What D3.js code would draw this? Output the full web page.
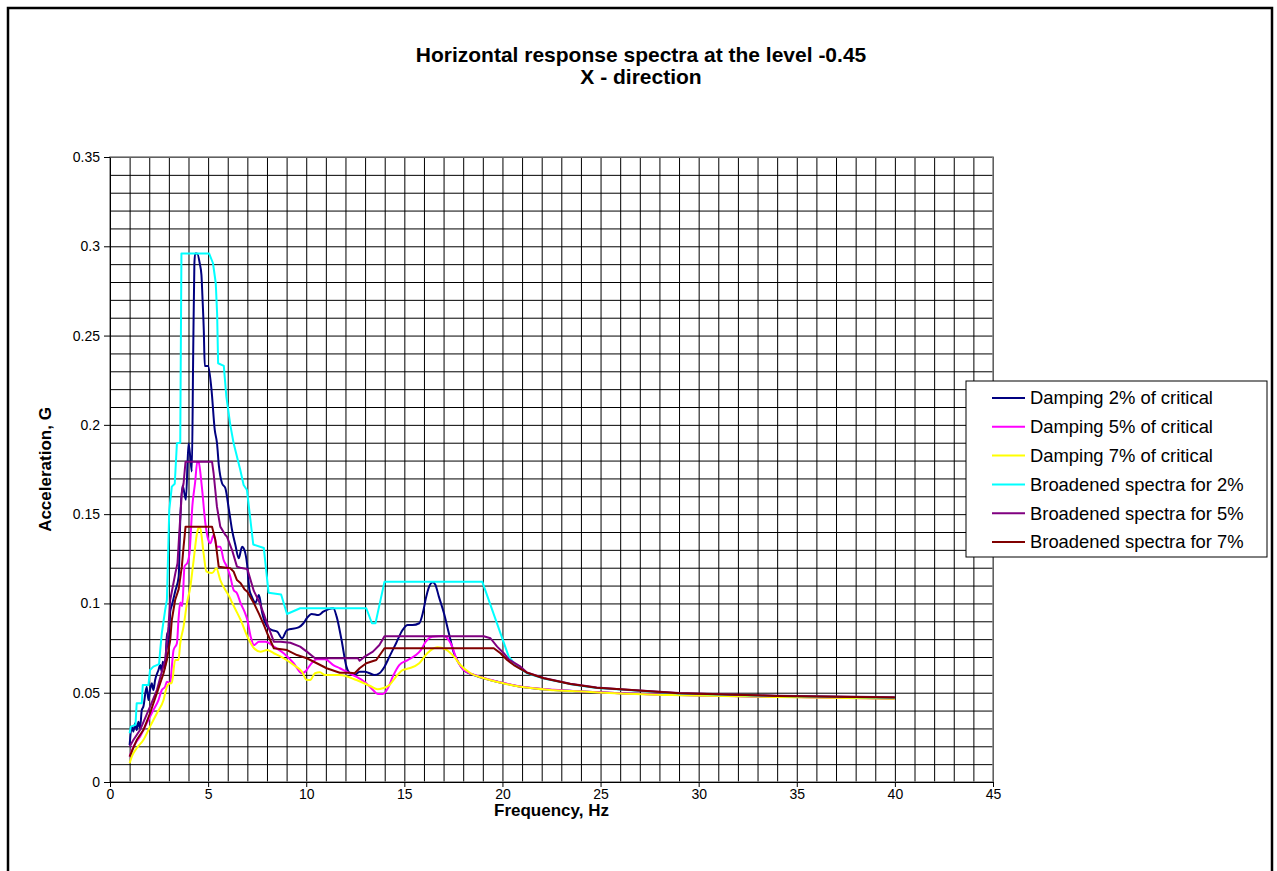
<!DOCTYPE html>
<html>
<head>
<meta charset="utf-8">
<script src="https://cdn.jsdelivr.net/npm/d3@7"></script>
<style>
	html, body { margin: 0; padding: 0; background: #fff; }
	svg { display: block; font-family: Arial, "Liberation Sans", sans-serif; }
</style>
</head>
<body>
<svg id="chart" width="1277" height="871"></svg>
<script>
'use strict';

var titleLines = ["Horizontal response spectra at the level -0.45", "X - direction"];
var xTitle = "Frequency, Hz";
var yTitle = "Acceleration, G";

var seriesNames = [
	"Damping 2% of critical",
	"Damping 5% of critical",
	"Damping 7% of critical",
	"Broadened spectra for 2%",
	"Broadened spectra for 5%",
	"Broadened spectra for 7%"
];
var seriesColors = ["#000080", "#ff00ff", "#ffff00", "#00ffff", "#800080", "#800000"];

var freqTicks = [0, 5, 10, 15, 20, 25, 30, 35, 40, 45];
var accelTicks = [0, 0.05, 0.1, 0.15, 0.2, 0.25, 0.3, 0.35];
var accelLabels = ["0", "0.05", "0.1", "0.15", "0.2", "0.25", "0.3", "0.35"];

// [frequency Hz, acceleration G]
var damping2 = [[1.0,0.0207],[1.11,0.031],[1.19,0.0282],[1.28,0.0329],[1.36,0.0291],[1.45,0.0338],[1.53,0.0301],[1.62,0.0403],[1.70,0.0422],[1.87,0.0534],[1.96,0.0459],[2.04,0.0515],[2.13,0.0553],[2.21,0.0515],[2.30,0.0571],[2.47,0.0627],[2.56,0.0655],[2.64,0.0618],[2.69,0.0674],[2.81,0.0637],[2.90,0.0833],[2.98,0.0739],[3.07,0.0954],[3.16,0.0992],[3.33,0.1071],[3.5,0.115],[3.58,0.1464],[3.70,0.166],[3.87,0.1581],[4.0,0.1896],[4.09,0.1822],[4.17,0.1739],[4.24,0.24],[4.3,0.29],[4.34,0.296],[4.44,0.296],[4.58,0.29],[4.66,0.284],[4.71,0.272],[4.78,0.253],[4.83,0.233],[5.0,0.233],[5.17,0.22],[5.34,0.197],[5.45,0.19],[5.55,0.177],[5.71,0.1673],[5.88,0.1645],[6.05,0.1533],[6.22,0.1411],[6.39,0.1327],[6.56,0.1253],[6.73,0.1318],[6.85,0.1299],[6.98,0.1225],[7.1,0.108],[7.22,0.104],[7.42,0.1005],[7.59,0.1047],[7.76,0.0945],[8.01,0.087],[8.26,0.0851],[8.52,0.0842],[8.77,0.0805],[9.02,0.0851],[9.61,0.0866],[9.86,0.0889],[10.03,0.0917],[10.28,0.0941],[10.62,0.0935],[10.87,0.0954],[11.12,0.0967],[11.38,0.0973],[11.55,0.0926],[11.8,0.0795],[12.05,0.0646],[12.22,0.0609],[12.47,0.0599],[12.72,0.0618],[12.98,0.0618],[13.23,0.0609],[13.48,0.0599],[13.73,0.0609],[13.99,0.0646],[14.24,0.0702],[14.58,0.0777],[14.91,0.0851],[15.17,0.0879],[15.42,0.0879],[15.76,0.0889],[15.95,0.095],[16.1,0.103],[16.25,0.109],[16.45,0.1118],[16.58,0.1105],[16.76,0.1038],[17.02,0.0945],[17.27,0.0833],[17.53,0.0721],[17.78,0.0665],[18.03,0.0627],[18.54,0.0599],[19.22,0.0575],[20.07,0.0553],[20.92,0.0534],[22.61,0.0515],[24.3,0.0506],[26.0,0.0497],[29.0,0.0487],[34.0,0.0478],[40.0,0.0468]];

var damping5 = [[1.0,0.0142],[1.19,0.0198],[1.53,0.0254],[1.87,0.0329],[2.21,0.0403],[2.47,0.0459],[2.64,0.0515],[2.81,0.0534],[2.90,0.0562],[3.07,0.0553],[3.15,0.0646],[3.24,0.0739],[3.41,0.0777],[3.49,0.0907],[3.58,0.1005],[3.68,0.0985],[3.8,0.1208],[3.95,0.1228],[4.05,0.128],[4.2,0.155],[4.34,0.168],[4.45,0.1795],[4.52,0.179],[4.68,0.1654],[4.86,0.1449],[5.0,0.136],[5.11,0.1337],[5.28,0.1383],[5.45,0.1318],[5.62,0.1318],[5.79,0.1243],[5.96,0.1206],[6.13,0.115],[6.3,0.1075],[6.47,0.1057],[6.66,0.1],[6.85,0.0955],[7.0,0.0907],[7.17,0.0814],[7.34,0.0767],[7.59,0.0786],[7.93,0.0786],[8.35,0.0758],[8.85,0.0721],[9.36,0.0665],[9.78,0.0609],[9.95,0.0618],[10.2,0.0655],[10.54,0.0687],[10.96,0.0687],[11.38,0.0655],[11.71,0.0637],[12.39,0.0599],[13.06,0.0553],[13.4,0.0515],[13.65,0.0493],[13.9,0.0493],[14.16,0.0525],[14.41,0.059],[14.74,0.0655],[15.17,0.0683],[15.59,0.0711],[15.84,0.0739],[16.09,0.0786],[16.42,0.0814],[17.02,0.0818],[17.36,0.0777],[17.69,0.0683],[18.03,0.0627],[18.54,0.0601],[19.22,0.0577],[20.07,0.0554],[20.92,0.0535],[22.61,0.0516],[24.3,0.0506],[26.0,0.0497],[29.0,0.0487],[34.0,0.0477],[40.0,0.0467]];

var damping7 = [[1.0,0.0105],[1.11,0.0142],[1.36,0.0189],[1.70,0.0235],[2.04,0.031],[2.39,0.0385],[2.73,0.0459],[2.90,0.0534],[3.07,0.0553],[3.15,0.0553],[3.32,0.0683],[3.49,0.0683],[3.58,0.0777],[3.75,0.087],[3.92,0.1],[4.09,0.109],[4.26,0.124],[4.43,0.139],[4.52,0.1425],[4.6,0.142],[4.77,0.128],[4.91,0.118],[5.2,0.117],[5.42,0.1197],[5.62,0.1131],[5.88,0.1075],[6.05,0.1045],[6.22,0.1005],[6.47,0.095],[6.66,0.0907],[7.0,0.0814],[7.34,0.0749],[7.67,0.073],[8.01,0.0739],[8.35,0.0721],[8.85,0.0693],[9.36,0.0655],[9.78,0.0618],[10.03,0.0571],[10.2,0.0571],[10.45,0.0609],[10.7,0.0614],[10.96,0.0599],[11.71,0.0599],[12.56,0.0571],[13.23,0.0539],[13.65,0.0519],[13.9,0.0525],[14.24,0.0543],[14.58,0.059],[14.91,0.0627],[15.25,0.0637],[15.76,0.0665],[16.17,0.0721],[16.68,0.0754],[17.1,0.0743],[17.53,0.0702],[17.86,0.0655],[18.37,0.0609],[19.05,0.0581],[20.07,0.0552],[20.92,0.0533],[22.61,0.0514],[24.3,0.0505],[26.0,0.0496],[29.0,0.0486],[34.0,0.0476],[40.0,0.0466]];

var broad2 = [[1.0,0.0273],[1.06,0.031],[1.3,0.032],[1.36,0.0441],[1.62,0.0441],[1.67,0.0543],[1.96,0.0543],[2.04,0.0627],[2.21,0.0646],[2.5,0.066],[2.56,0.0739],[2.64,0.0833],[2.81,0.0963],[2.9,0.1019],[3.02,0.1523],[3.15,0.1654],[3.3,0.167],[3.41,0.1897],[3.58,0.19],[3.64,0.296],[5.05,0.296],[5.25,0.2905],[5.39,0.2793],[5.46,0.262],[5.51,0.2345],[5.8,0.233],[5.93,0.2158],[6.13,0.2],[6.3,0.1897],[6.64,0.1747],[6.81,0.1663],[6.98,0.1635],[7.3,0.133],[7.84,0.131],[8.08,0.106],[8.72,0.105],[9.02,0.0941],[9.69,0.0973],[13.06,0.0973],[13.35,0.0889],[13.53,0.0889],[13.99,0.1122],[18.97,0.1122],[20.32,0.0702],[20.75,0.0646],[21.25,0.0609],[22.1,0.0579],[23.46,0.0548],[24.8,0.0527],[26.0,0.0518],[29.0,0.0496],[34.0,0.0481],[40.0,0.0472]];

var broad5 = [[1.0,0.0198],[1.19,0.0235],[1.53,0.0291],[2.04,0.0422],[2.39,0.0515],[2.64,0.0618],[2.81,0.0683],[2.90,0.0777],[2.98,0.087],[3.07,0.1019],[3.16,0.1071],[3.33,0.1169],[3.44,0.1225],[3.54,0.1411],[3.66,0.1617],[3.75,0.1673],[3.85,0.1794],[5.2,0.1794],[5.28,0.1729],[5.45,0.1542],[5.62,0.143],[5.88,0.1383],[5.96,0.1374],[6.22,0.1299],[6.47,0.1206],[6.64,0.12],[7.0,0.1192],[7.33,0.107],[7.6,0.101],[7.84,0.094],[8.0,0.089],[8.35,0.0786],[8.69,0.0786],[9.19,0.078],[9.69,0.0758],[10.03,0.073],[10.45,0.0693],[12.64,0.0693],[12.72,0.0679],[12.98,0.0702],[13.4,0.073],[13.73,0.0767],[13.99,0.0816],[19.05,0.0816],[19.39,0.0805],[19.73,0.0758],[20.07,0.0721],[20.32,0.0687],[20.92,0.0646],[21.25,0.0613],[22.1,0.0582],[23.46,0.055],[24.8,0.0529],[26.0,0.052],[29.0,0.0498],[34.0,0.0483],[40.0,0.0474]];

var broad7 = [[1.0,0.0142],[1.36,0.0235],[1.70,0.0291],[2.04,0.0385],[2.39,0.0497],[2.73,0.0609],[2.90,0.0683],[2.98,0.0739],[3.07,0.0795],[3.15,0.0907],[3.32,0.1019],[3.5,0.108],[3.66,0.1206],[3.75,0.1318],[3.85,0.143],[5.2,0.143],[5.37,0.1355],[5.54,0.1206],[6.13,0.1197],[6.3,0.1178],[6.47,0.1131],[6.66,0.1113],[6.85,0.108],[7.0,0.1065],[7.34,0.1],[7.6,0.094],[7.84,0.088],[8.01,0.0833],[8.35,0.0749],[9.02,0.0739],[9.53,0.0711],[10.03,0.0693],[10.54,0.0665],[11.04,0.0637],[11.71,0.0612],[12.22,0.0612],[12.47,0.0609],[12.72,0.0637],[13.06,0.0665],[13.57,0.0683],[13.99,0.0749],[19.56,0.0749],[19.9,0.0721],[20.24,0.0683],[20.58,0.0655],[21.25,0.0612],[22.1,0.0581],[23.46,0.0549],[24.8,0.0528],[26.0,0.0519],[29.0,0.0497],[34.0,0.0482],[40.0,0.0473]];

var allSeries = [damping2, damping5, damping7, broad2, broad5, broad7];

var svg = d3.select("#chart");
var plot = {left: 110, top: 157, right: 993, bottom: 782};

var x = d3.scaleLinear().domain([0, 45]).range([plot.left, plot.right]);
var y = d3.scaleLinear().domain([0, 0.35]).range([plot.bottom, plot.top]);

//chart area frame
svg.append("rect")
	.attr("x", 8).attr("y", 8)
	.attr("width", 1264).attr("height", 900)
	.attr("fill", "#fff").attr("stroke", "#000").attr("stroke-width", 2.5);

//plot area + gridlines (every 1 Hz, every 0.01 G)
svg.append("rect")
	.attr("x", plot.left).attr("y", plot.top)
	.attr("width", plot.right - plot.left).attr("height", plot.bottom - plot.top)
	.attr("fill", "#fff");

var grid = svg.append("g").attr("class", "grid");
grid.append("g")
	.attr("transform", "translate(0," + plot.bottom + ")")
	.call(d3.axisBottom(x).ticks(45).tickSize(-(plot.bottom - plot.top)).tickFormat(""));
grid.append("g")
	.attr("transform", "translate(" + plot.left + ",0)")
	.call(d3.axisLeft(y).ticks(35).tickSize(-(plot.right - plot.left)).tickFormat(""));
grid.selectAll(".domain").remove();
grid.selectAll("line").attr("stroke", "#000").attr("stroke-width", 1);

svg.append("rect")
	.attr("x", plot.left).attr("y", plot.top)
	.attr("width", plot.right - plot.left).attr("height", plot.bottom - plot.top)
	.attr("fill", "none").attr("stroke", "#808080").attr("stroke-width", 1.5);

//axes
var xAxis = svg.append("g")
	.attr("transform", "translate(0," + plot.bottom + ")")
	.call(d3.axisBottom(x).tickValues(freqTicks).tickSize(5).tickSizeOuter(0).tickPadding(2));
var yAxis = svg.append("g")
	.attr("transform", "translate(" + plot.left + ",0)")
	.call(d3.axisLeft(y).tickValues(accelTicks).tickSize(6).tickSizeOuter(0).tickPadding(4)
		.tickFormat(function(d, i) { return accelLabels[i]; }));

[xAxis, yAxis].forEach(function(a) {
	a.selectAll("path, line").attr("stroke", "#000");
	a.selectAll("text")
		.attr("fill", "#000")
		.style("font-family", "Arial, 'Liberation Sans', sans-serif")
		.style("font-size", "14px");
});

//series, drawn in legend order so later ones sit on top
var line = d3.line()
	.x(function(d) { return x(d[0]); })
	.y(function(d) { return y(d[1]); });

svg.append("g").selectAll("path")
	.data(allSeries)
	.enter().append("path")
	.attr("d", function(d, i) { return line.curve(i < 3 ? d3.curveMonotoneX : d3.curveLinear)(d); })
	.attr("fill", "none")
	.attr("stroke", function(d, i) { return seriesColors[i]; })
	.attr("stroke-width", 2)
	.attr("stroke-linejoin", "round");

//titles
svg.append("g").selectAll("text")
	.data(titleLines)
	.enter().append("text")
	.attr("x", 641)
	.attr("y", function(d, i) { return 62 + i * 22; })
	.attr("text-anchor", "middle")
	.style("font-size", "21px")
	.style("font-weight", "bold")
	.text(function(d) { return d; });

svg.append("text")
	.attr("x", (plot.left + plot.right) / 2)
	.attr("y", 816)
	.attr("text-anchor", "middle")
	.style("font-size", "17px")
	.style("font-weight", "bold")
	.text(xTitle);

svg.append("text")
	.attr("transform", "translate(51," + ((plot.top + plot.bottom) / 2) + ") rotate(-90)")
	.attr("text-anchor", "middle")
	.style("font-size", "17px")
	.style("font-weight", "bold")
	.text(yTitle);

//legend
var legend = svg.append("g").attr("transform", "translate(966,381)");
legend.append("rect")
	.attr("width", 301).attr("height", 176)
	.attr("fill", "#fff").attr("stroke", "#000").attr("stroke-width", 1);

var item = legend.selectAll("g.item")
	.data(seriesNames)
	.enter().append("g")
	.attr("class", "item")
	.attr("transform", function(d, i) { return "translate(0," + (17 + i * 28.8) + ")"; });
item.append("line")
	.attr("x1", 26).attr("x2", 59)
	.attr("stroke", function(d, i) { return seriesColors[i]; })
	.attr("stroke-width", 2);
item.append("text")
	.attr("x", 64).attr("dy", "0.35em")
	.style("font-size", "18.4px")
	.text(function(d) { return d; });
</script>
</body>
</html>
